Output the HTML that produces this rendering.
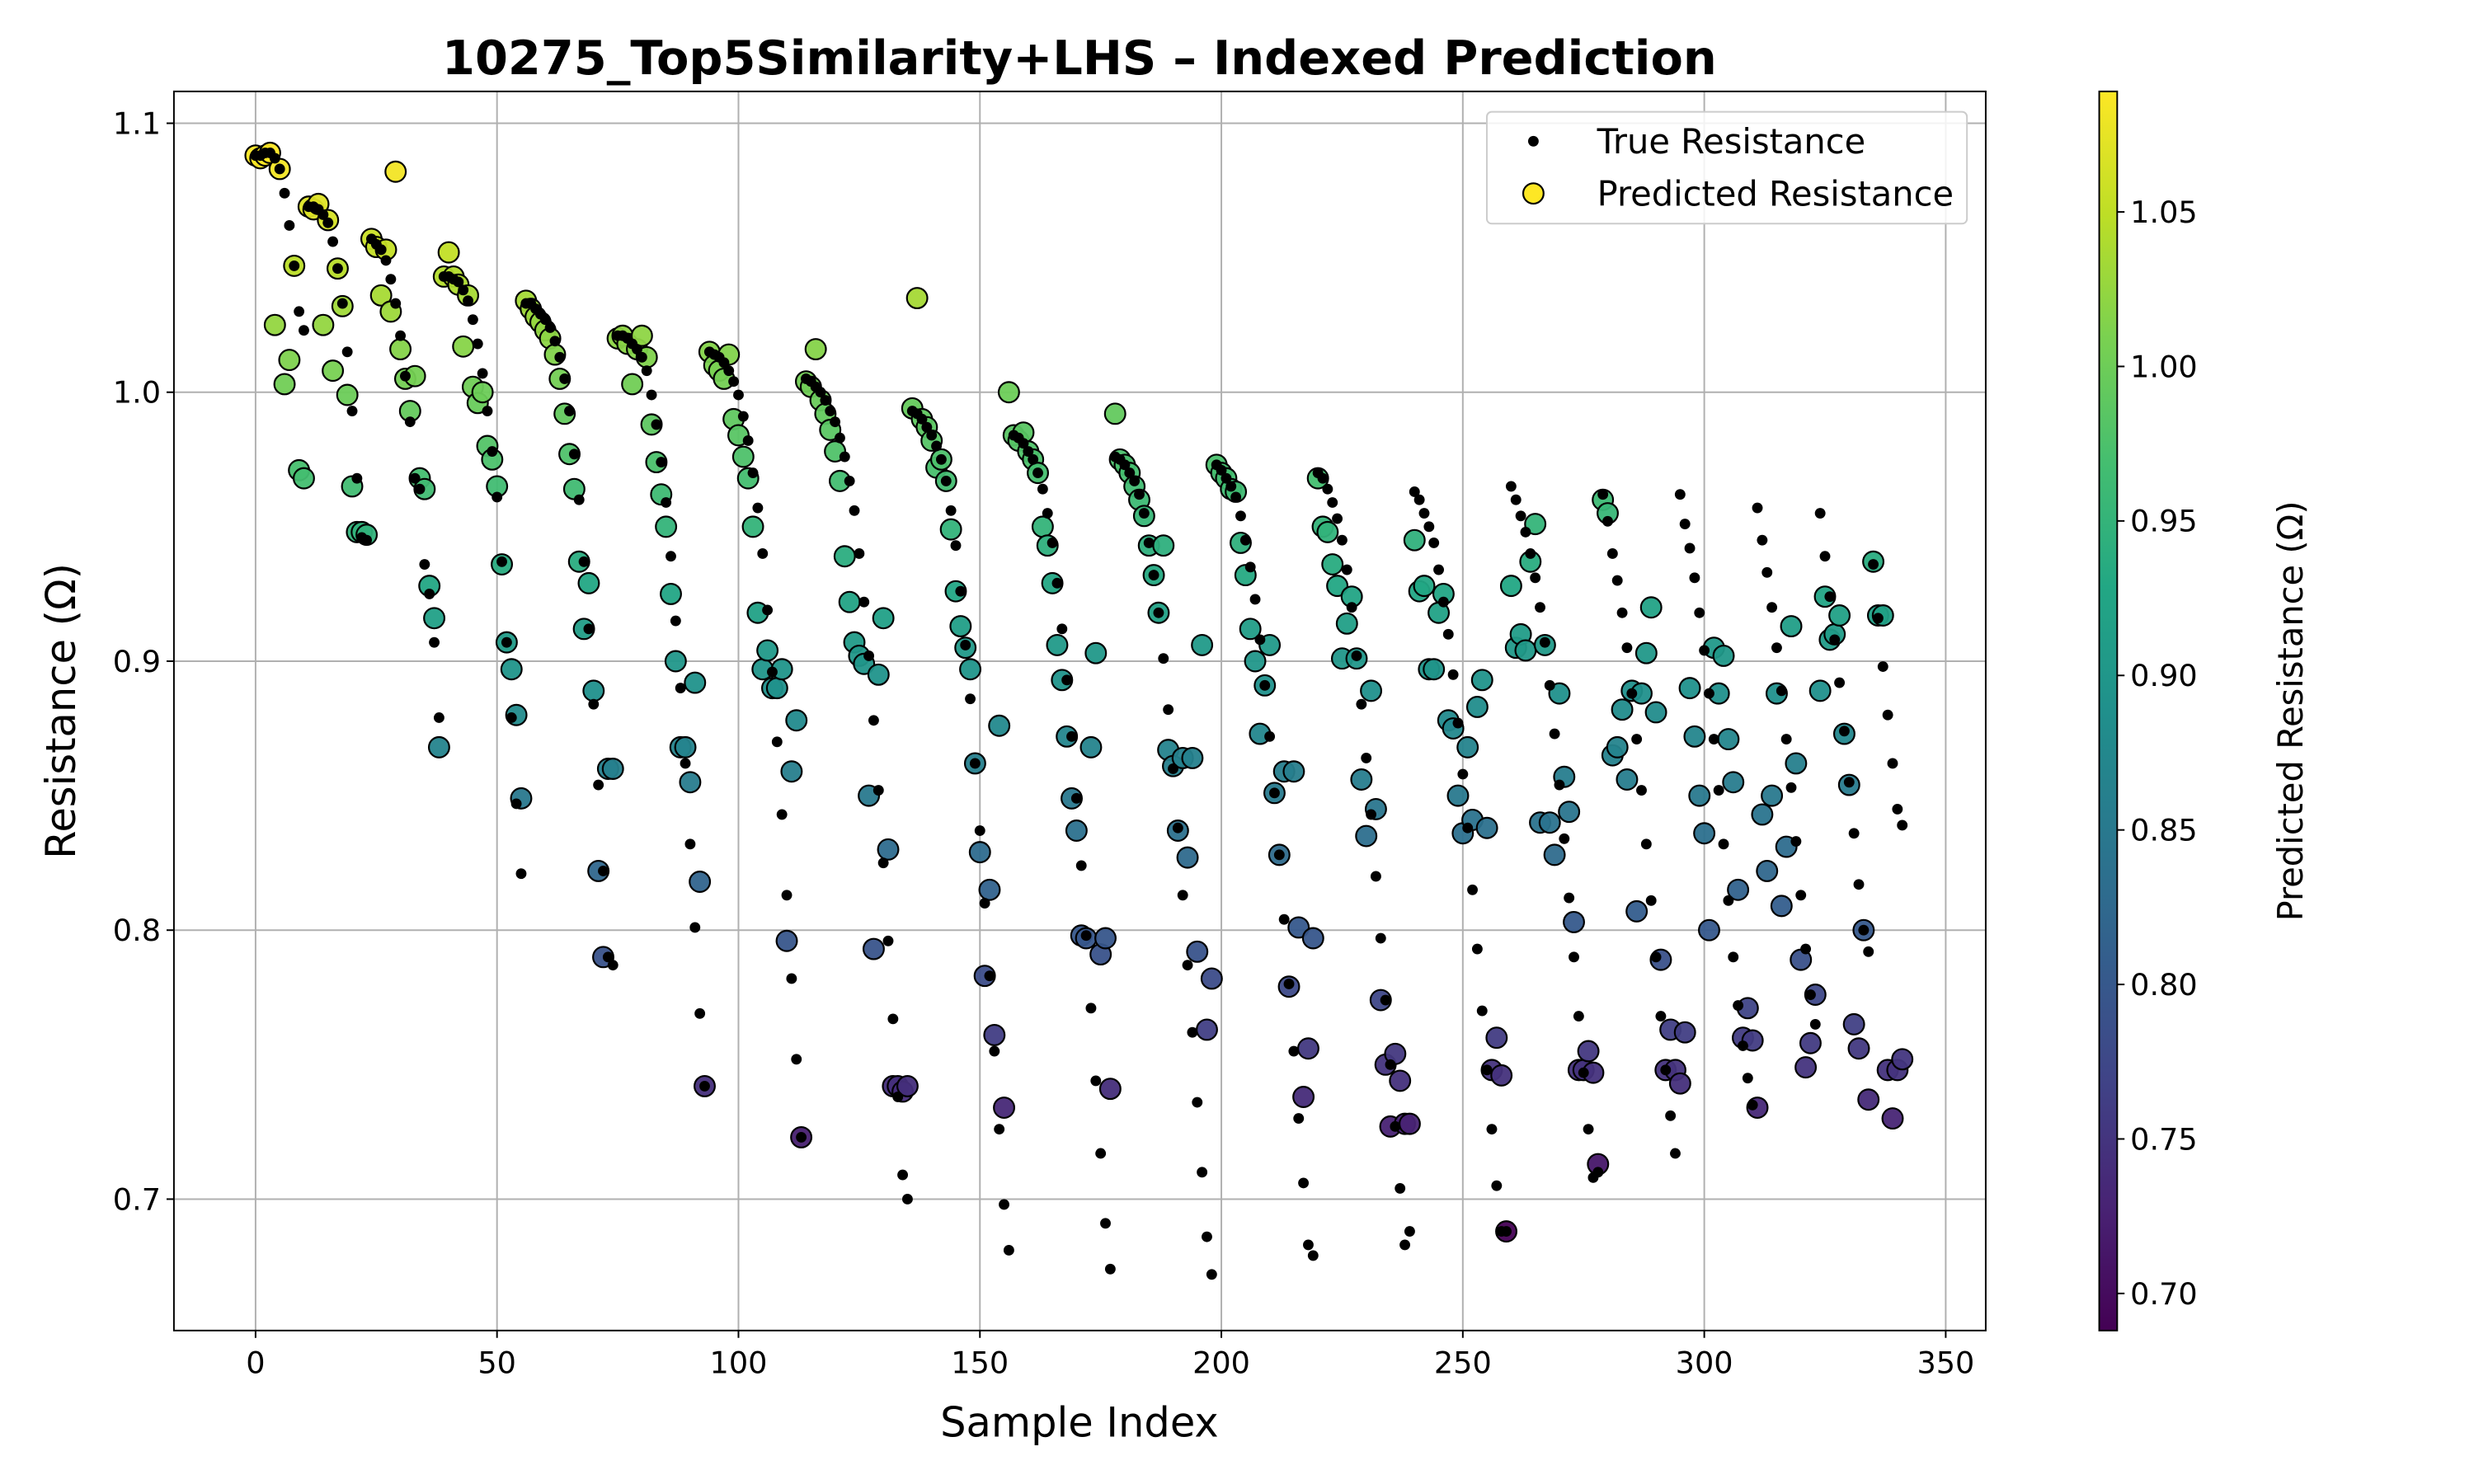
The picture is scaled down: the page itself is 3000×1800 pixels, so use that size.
<!DOCTYPE html>
<html><head><meta charset="utf-8"><style>
html,body{margin:0;padding:0;background:#fff}
svg{display:block;font-family:"DejaVu Sans","Liberation Sans",sans-serif}
</style></head><body>
<svg id="c" width="3000" height="1800" viewBox="0 0 3030 1818" xmlns="http://www.w3.org/2000/svg"></svg>
<script>
const trueVals=[
1.088,1.088,1.089,1.089,1.087,1.083,1.074,1.062,1.047,1.030,1.023,
1.069,1.069,1.068,1.066,1.063,1.056,1.046,1.033,1.015,0.993,0.968,0.946,0.945,
1.057,1.055,1.053,1.049,1.042,1.033,1.021,1.006,0.989,0.968,0.964,0.936,0.925,0.907,0.879,
1.043,1.043,1.042,1.041,1.038,1.034,1.027,1.018,1.007,0.993,0.978,0.961,0.937,0.907,0.879,0.847,0.821,
1.033,1.033,1.031,1.029,1.027,1.024,1.019,1.013,1.005,0.993,0.977,0.960,0.937,0.912,0.884,0.854,0.822,0.790,0.787,
1.021,1.021,1.020,1.018,1.016,1.013,1.008,0.999,0.988,0.974,0.959,0.939,0.915,0.890,0.862,0.832,0.801,0.769,0.742,
1.015,1.014,1.013,1.011,1.008,1.004,0.999,0.991,0.982,0.970,0.957,0.940,0.919,0.896,0.870,0.843,0.813,0.782,0.752,0.723,
1.005,1.004,1.002,1.000,0.997,0.993,0.989,0.983,0.976,0.967,0.956,0.940,0.922,0.902,0.878,0.852,0.825,0.796,0.767,0.738,0.709,0.700,
0.993,0.992,0.990,0.987,0.984,0.980,0.975,0.967,0.956,0.943,0.926,0.906,0.886,0.862,0.837,0.810,0.783,0.755,0.726,0.698,0.681,
0.984,0.983,0.981,0.978,0.975,0.970,0.964,0.955,0.944,0.929,0.912,0.893,0.872,0.849,0.824,0.798,0.771,0.744,0.717,0.691,0.674,
0.976,0.975,0.973,0.970,0.967,0.962,0.955,0.944,0.932,0.918,0.901,0.882,0.860,0.838,0.813,0.787,0.762,0.736,0.710,0.686,0.672,
0.973,0.971,0.968,0.965,0.961,0.954,0.945,0.935,0.923,0.908,0.891,0.872,0.851,0.828,0.804,0.780,0.755,0.730,0.706,0.683,0.679,
0.970,0.968,0.964,0.959,0.953,0.945,0.934,0.920,0.902,0.884,0.864,0.843,0.820,0.797,0.774,0.750,0.727,0.704,0.683,0.688,
0.963,0.960,0.955,0.950,0.944,0.934,0.922,0.910,0.895,0.877,0.858,0.838,0.815,0.793,0.770,0.748,0.726,0.705,0.688,0.688,
0.965,0.960,0.954,0.948,0.940,0.931,0.920,0.907,0.891,0.873,0.854,0.834,0.812,0.790,0.768,0.747,0.726,0.708,0.710,
0.962,0.952,0.940,0.930,0.918,0.905,0.888,0.871,0.852,0.832,0.811,0.790,0.768,0.748,0.731,0.717,
0.962,0.951,0.942,0.931,0.918,0.904,0.888,0.871,0.852,0.832,0.811,0.790,0.772,0.757,0.745,0.735,
0.957,0.945,0.933,0.920,0.905,0.889,0.871,0.853,0.833,0.813,0.793,0.776,0.765,
0.955,0.939,0.924,0.908,0.892,0.874,0.855,0.836,0.817,0.800,0.792,0.936,0.916,0.898,0.880,0.862,0.845,0.839];
const predVals=[
1.088,1.087,1.088,1.089,1.025,1.083,1.003,1.012,1.047,0.971,0.968,
1.069,1.068,1.070,1.025,1.064,1.008,1.046,1.032,0.999,0.965,0.948,0.948,0.947,
1.057,1.054,1.036,1.053,1.030,1.082,1.016,1.005,0.993,1.006,0.968,0.964,0.928,0.916,0.868,
1.043,1.052,1.043,1.040,1.017,1.036,1.002,0.996,1.000,0.980,0.975,0.965,0.936,0.907,0.897,0.880,0.849,
1.034,1.031,1.028,1.026,1.023,1.020,1.014,1.005,0.992,0.977,0.964,0.937,0.912,0.929,0.889,0.822,0.790,0.860,0.860,
1.020,1.021,1.018,1.003,1.016,1.021,1.013,0.988,0.974,0.962,0.950,0.925,0.900,0.868,0.868,0.855,0.892,0.818,0.742,
1.015,1.010,1.008,1.005,1.014,0.990,0.984,0.976,0.968,0.950,0.918,0.897,0.904,0.890,0.890,0.897,0.796,0.859,0.878,0.723,
1.004,1.002,1.016,0.997,0.992,0.986,0.978,0.967,0.939,0.922,0.907,0.902,0.899,0.850,0.793,0.895,0.916,0.830,0.742,0.742,0.740,0.742,
0.994,1.035,0.990,0.987,0.982,0.972,0.975,0.967,0.949,0.926,0.913,0.905,0.897,0.862,0.829,0.783,0.815,0.761,0.876,0.734,1.000,
0.984,0.982,0.985,0.978,0.975,0.970,0.950,0.943,0.929,0.906,0.893,0.872,0.849,0.837,0.798,0.797,0.868,0.903,0.791,0.797,0.741,
0.992,0.975,0.973,0.970,0.965,0.960,0.954,0.943,0.932,0.918,0.943,0.867,0.861,0.837,0.864,0.827,0.864,0.792,0.906,0.763,0.782,
0.973,0.970,0.968,0.964,0.963,0.944,0.932,0.912,0.900,0.873,0.891,0.906,0.851,0.828,0.859,0.779,0.859,0.801,0.738,0.756,0.797,
0.968,0.950,0.948,0.936,0.928,0.901,0.914,0.924,0.901,0.856,0.835,0.889,0.845,0.774,0.750,0.727,0.754,0.744,0.728,0.728,
0.945,0.926,0.928,0.897,0.897,0.918,0.925,0.878,0.875,0.850,0.836,0.868,0.841,0.883,0.893,0.838,0.748,0.760,0.746,0.688,
0.928,0.905,0.910,0.904,0.937,0.951,0.840,0.906,0.840,0.828,0.888,0.857,0.844,0.803,0.748,0.748,0.755,0.747,0.713,
0.960,0.955,0.865,0.868,0.882,0.856,0.889,0.807,0.888,0.903,0.920,0.881,0.789,0.748,0.763,0.748,
0.743,0.762,0.890,0.872,0.850,0.836,0.800,0.905,0.888,0.902,0.871,0.855,0.815,0.760,0.771,0.759,
0.734,0.843,0.822,0.850,0.888,0.809,0.831,0.913,0.862,0.789,0.749,0.758,0.776,
0.889,0.924,0.908,0.910,0.917,0.873,0.854,0.765,0.756,0.800,0.737,0.937,0.917,0.917,0.748,0.730,0.748,0.752];
const xTicks=[0,50,100,150,200,250,300,350];
const yTicks=[0.7,0.8,0.9,1.0,1.1];
const cbTicks=[0.70,0.75,0.80,0.85,0.90,0.95,1.00,1.05];

const NS="http://www.w3.org/2000/svg";
const svg=document.getElementById('c');
function mk(tag,attrs,parent){const e=document.createElementNS(NS,tag);for(const k in attrs)e.setAttribute(k,attrs[k]);(parent||svg).appendChild(e);return e;}
const L=213,R=2432,T=112,B=1630;
const sx=v=>313+(v-0)*(2383-313)/350;
const sy=v=>151+(1.1-v)*(1469-151)/0.4;
const vmin=Math.min(...predVals),vmax=Math.max(...predVals);
const vir=[[68,1,84],[72,35,116],[64,67,135],[52,94,141],[41,120,142],[32,144,140],[34,167,132],[68,190,112],[121,209,81],[189,222,38],[253,231,37]];
function cmap(v){let t=(v-vmin)/(vmax-vmin);t=Math.max(0,Math.min(1,t))*10;const i=Math.min(9,Math.floor(t)),f=t-i;const a=vir[i],b=vir[i+1];return `rgb(${a.map((c,k)=>Math.round(c+(b[k]-c)*f)).join(',')})`;}

xTicks.forEach(t=>{const g=mk('line',{x1:sx(t),x2:sx(t),y1:T,y2:B,stroke:'#b0b0b0','stroke-width':2});
});
yTicks.forEach(t=>{const g=mk('line',{x1:L,x2:R,y1:sy(t),y2:sy(t),stroke:'#b0b0b0','stroke-width':2});
});

for(let i=0;i<predVals.length;i++){const c=mk('circle',{cx:sx(i),cy:sy(predVals[i]),r:12.5,fill:cmap(predVals[i]),stroke:'#000','stroke-width':2.2,'fill-opacity':0.95});
}
for(let i=0;i<trueVals.length;i++){const c=mk('circle',{cx:sx(i),cy:sy(trueVals[i]),r:6.5,fill:'#000'});
}

const fr=mk('rect',{x:L,y:T,width:R-L,height:B-T,fill:'none',stroke:'#000','stroke-width':2});

xTicks.forEach(t=>{mk('line',{x1:sx(t),x2:sx(t),y1:B,y2:B+9,stroke:'#000','stroke-width':2});
const tx=mk('text',{x:sx(t),y:B+52,'font-size':37,'text-anchor':'middle'});tx.textContent=t;
});
yTicks.forEach(t=>{mk('line',{x1:L-9,x2:L,y1:sy(t),y2:sy(t),stroke:'#000','stroke-width':2});
const tx=mk('text',{x:L-16,y:sy(t)+13,'font-size':37,'text-anchor':'end'});tx.textContent=t.toFixed(1);
});

let e;
e=mk('text',{x:1322,y:1760,'font-size':50,'text-anchor':'middle'});e.textContent='Sample Index';

e=mk('text',{x:92,y:871,'font-size':50,'text-anchor':'middle',transform:'rotate(-90 92 871)'});e.textContent='Resistance (Ω)';

e=mk('text',{x:1322,y:91,'font-size':58,'font-weight':'bold','text-anchor':'middle'});e.textContent='10275_Top5Similarity+LHS – Indexed Prediction';


const lg=mk('g',{});
mk('rect',{x:1821,y:137,width:588,height:137,rx:6,fill:'#fff','fill-opacity':0.85,stroke:'#ccc','stroke-width':2},lg);
mk('circle',{cx:1878,cy:173,r:6.5,fill:'#000'},lg);
e=mk('text',{x:1956,y:188,'font-size':42},lg);e.textContent='True Resistance';

mk('circle',{cx:1878,cy:237,r:12.5,fill:cmap(vmax),stroke:'#000','stroke-width':2.2},lg);
e=mk('text',{x:1956,y:252,'font-size':42},lg);e.textContent='Predicted Resistance';


const cx0=2571,cw=22;
const defs=mk('defs',{});const gr=mk('linearGradient',{id:'vg',x1:0,y1:1,x2:0,y2:0},defs);
vir.forEach((c,i)=>mk('stop',{offset:(i/10),'stop-color':`rgb(${c.join(',')})`},gr));
e=mk('rect',{x:cx0,y:T,width:cw,height:B-T,fill:'url(#vg)',stroke:'#000','stroke-width':2});

const cy=v=>B-(v-vmin)/(vmax-vmin)*(B-T);
cbTicks.forEach(t=>{mk('line',{x1:cx0+cw,x2:cx0+cw+9,y1:cy(t),y2:cy(t),stroke:'#000','stroke-width':2});
const tx=mk('text',{x:cx0+cw+16,y:cy(t)+13,'font-size':37});tx.textContent=t.toFixed(2);
});
e=mk('text',{x:2820,y:871,'font-size':42,'text-anchor':'middle',transform:'rotate(-90 2820 871)'});e.textContent='Predicted Resistance (Ω)';

</script>
</body></html>
